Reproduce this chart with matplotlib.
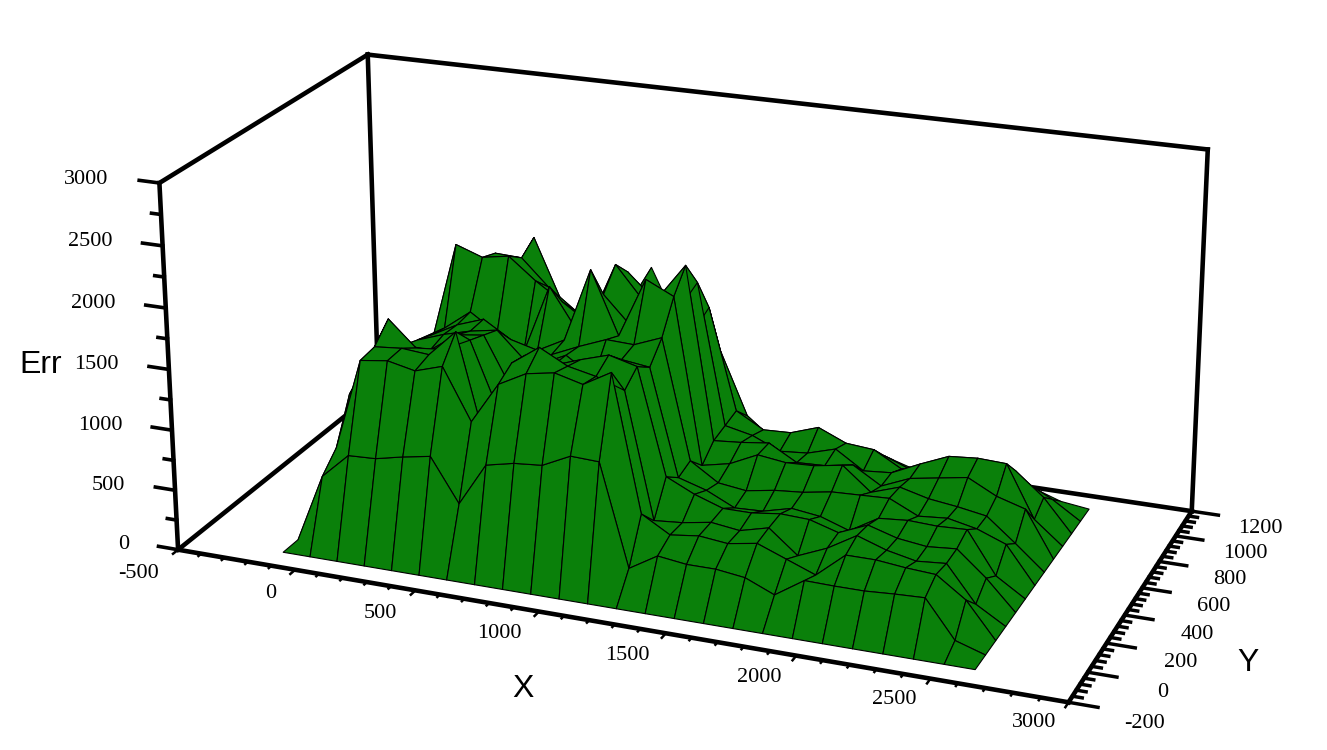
import numpy as np
import matplotlib
matplotlib.use("Agg")
import matplotlib.pyplot as plt

X_GRID = [-115, -0.8, 113.3, 227.5, 341.7, 455.8, 570, 684.2, 798.3, 912.5, 1026.7, 1140.8, 1255,
          1369.2, 1483.3, 1597.5, 1711.7, 1825.8, 1940, 2054.2, 2168.3, 2282.5, 2396.7, 2510.8, 2625]
Y_GRID = [-100, 0, 100, 200, 300, 400, 500, 600, 700, 800, 900, 1000, 1100]
ERR = [
    [0] * 25,
    [0,570,780,790,840,880,525,880,930,950,1060,1050,220,360,330,330,300,200,355,350,350,365,375,75,0],
    [0,710,1470,1500,1450,1520,1100,1440,1560,1600,1540,1670,560,425,455,430,470,380,290,490,490,465,450,285,0],
    [0,1060,1490,1510,1490,1710,820,1520,1680,1560,1510,1430,400,420,460,430,490,300,400,540,460,410,430,140,0],
    [0,1175,1630,1420,1440,1550,990,1490,1440,1520,1590,1530,660,550,470,470,500,490,420,520,450,420,440,240,0],
    [0,1130,1320,1310,1470,1500,1080,1320,1430,1280,1460,1430,550,480,370,380,440,410,330,470,490,480,490,150,0],
    [0,1000,1270,1350,1410,1450,1230,1310,1410,1500,1490,1580,590,440,410,450,470,510,520,530,420,440,390,300,0],
    [0,1050,1220,1340,1420,1280,1220,1340,1960,1440,1940,1830,450,500,610,580,590,630,440,520,460,430,390,200,0],
    [0,1060,1190,1360,1210,1080,1670,1330,1665,1430,1700,2000,560,580,610,480,490,530,390,490,530,570,450,380,0],
    [0,970,1820,1740,1780,1600,1450,1300,1830,1560,1410,1770,590,540,440,460,530,380,400,510,610,630,620,190,0],
    [0,1040,1520,1690,1680,1460,1290,1050,1680,1470,1090,1470,620,490,500,580,480,460,330,400,470,490,460,270,0],
    [0,680,1260,1370,1770,1260,1030,780,1470,1320,760,1010,480,300,340,410,320,310,220,250,300,320,270,150,0],
    [0,430,900,1020,1230,990,760,340,1545,1080,310,510,260,110,150,230,170,170,100,110,140,150,110,30,0],
]
X_TICKS = [-500, 0, 500, 1000, 1500, 2000, 2500, 3000]
Y_TICKS = [-200, 0, 200, 400, 600, 800, 1000, 1200]
Z_TICKS = [0, 500, 1000, 1500, 2000, 2500, 3000]

W, H = 1327, 750
X0, X1 = -500, 3000
Y0, Y1 = -200, 1200
Z1 = 3000
GREEN = "#0a800a"
FONT = "Liberation Serif"

# box corners and where they sit in the picture, used to fit the camera
_CORNERS = [(X0, Y0, 0), (X1, Y0, 0), (X1, Y1, 0), (X0, Y1, 0), (X0, Y0, Z1), (X0, Y1, Z1), (X1, Y1, Z1)]
_PIXELS = [(178, 550), (1068, 703), (1192, 510), (378.6, 389.5), (160, 182), (367, 55), (1208, 150)]


def fit_camera():
    rows = []
    for (x, y, z), (u, v) in zip(_CORNERS, _PIXELS):
        rows.append([x, y, z, 1, 0, 0, 0, 0, -u * x, -u * y, -u * z, -u])
        rows.append([0, 0, 0, 0, x, y, z, 1, -v * x, -v * y, -v * z, -v])
    P = np.linalg.svd(np.array(rows, dtype=float))[2][-1].reshape(3, 4)
    return -P if P[2, 3] < 0 else P


def camera_matrix(ax):
    """Projection for mplot3d: data coordinates to the axes' own view limits."""
    P = fit_camera()
    x0, x1 = ax.viewLim.intervalx
    y0, y1 = ax.viewLim.intervaly
    pad = (W - H) / 2
    row_x = x0 * P[2] + (x1 - x0) / W * P[0]
    row_y = y1 * P[2] - (y1 - y0) / W * (P[1] + pad * P[2])
    return np.array([row_x, row_y, [0, 0, 0, -1], P[2]])


fig = plt.figure(figsize=(W / 100, H / 100), dpi=100, facecolor="white")
ax = fig.add_axes([0, -(W - H) / 2 / H, 1, W / H], projection="3d")
ax.set_axis_off()
ax.computed_zorder = False
M = camera_matrix(ax)
ax.get_proj = lambda: M

xx, yy = np.meshgrid(X_GRID, Y_GRID)
ax.plot_surface(xx, yy, np.array(ERR, dtype=float), rstride=1, cstride=1, color=GREEN,
                edgecolor="black", linewidth=0.8, shade=False, antialiased=True, zorder=5)


def line(p, q, lw=3.3, zorder=1):
    ax.plot([p[0], q[0]], [p[1], q[1]], [p[2], q[2]], color="black", lw=lw,
            solid_capstyle="projecting", zorder=zorder)


# walls, back edges stay under the surface
line((X0, Y0, 0), (X0, Y1, 0))
line((X0, Y1, 0), (X1, Y1, 0))
line((X0, Y1, 0), (X0, Y1, Z1))
line((X0, Y0, Z1), (X0, Y1, Z1))
line((X0, Y1, Z1), (X1, Y1, Z1))
line((X1, Y1, Z1), (X1, Y1, 0))
line((X0, Y0, 0), (X1, Y0, 0), zorder=10)
line((X1, Y0, 0), (X1, Y1, 0), zorder=10)
line((X0, Y0, 0), (X0, Y0, Z1), zorder=10)

for x in np.arange(X0, X1 + 1, 100):
    major = x in X_TICKS
    line((x, Y0, 0), (x, Y0 - (32 if major else 18), 0), lw=1.8, zorder=9)
for y in np.arange(Y0, Y1 + 1, 40):
    major = y in Y_TICKS
    line((X1, y, 0), (X1 + (105 if major else 35), y, 0), lw=2.5, zorder=9)
for z in np.arange(0, Z1 + 1, 250):
    major = z in Z_TICKS
    line((X0, Y0, z), (X0 - (85 if major else 40), Y0, z), lw=2.6, zorder=9)

for x in X_TICKS:
    # labels drift a little closer to the axis towards the near corner
    ax.text(x, Y0 - 125, -65 + (x - X0) * 0.016, str(x), ha="right", va="center",
            family=FONT, fontsize=16, zorder=11)
for y in Y_TICKS:
    ax.text(X1 + 270, y, -60, str(y), ha="center", va="center", family=FONT, fontsize=16, zorder=11)
for z in Z_TICKS:
    ax.text(X0 - 215, Y0, z - 25, str(z), ha="right", va="center", family=FONT, fontsize=16, zorder=11)

fig.text(523 / W, 1 - 689 / H, "X", ha="center", va="center", family="Liberation Sans", fontsize=23)
fig.text(1248 / W, 1 - 663 / H, "Y", ha="center", va="center", family="Liberation Sans", fontsize=23)
fig.text(41 / W, 1 - 365 / H, "Err", ha="center", va="center", family="Liberation Sans", fontsize=23)

fig.savefig("out.png", dpi=100, facecolor="white")
